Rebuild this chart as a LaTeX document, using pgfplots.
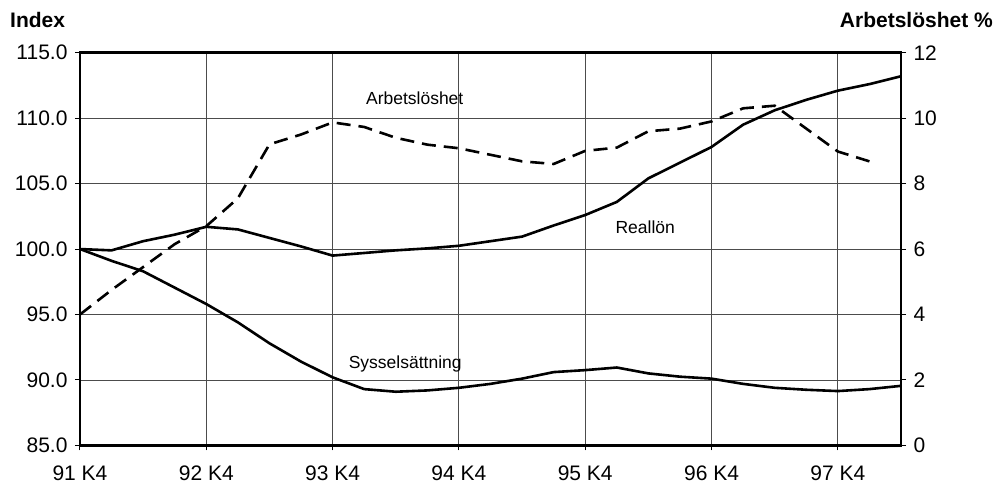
\documentclass[border=0pt]{standalone}
\usepackage{fontspec}
\setmainfont{Liberation Sans}
\usepackage{pgfplots}
\pgfplotsset{compat=1.18}
\begin{document}
\begin{tikzpicture}
\path[use as bounding box] (-80pt,-44.6pt) rectangle (919pt,445.4pt);
\begin{axis}[
  at={(0pt,0pt)}, anchor=south west,
  scale only axis, width=821pt, height=392.7pt,
  xmin=0, xmax=26, ymin=85, ymax=115,
  xtick={0,4,...,24},
  xticklabels={91 K4,92 K4,93 K4,94 K4,95 K4,96 K4,97 K4},
  ytick={85,90,...,115},
  xtick pos=bottom, ytick pos=left,
  tick align=outside, major tick length=5pt,
  tick style={line width=1pt, black},
  grid=major, grid style={line width=0.9pt, black!70},
  axis line style={line width=2.6pt},
  tick label style={font=\fontsize{21}{25}\selectfont},
  yticklabel style={/pgf/number format/fixed, /pgf/number format/fixed zerofill, /pgf/number format/precision=1, /pgf/number format/assume math mode=true, xshift=-4pt},
  xticklabel style={yshift=-12pt},
  clip=false,
]
\addplot[line width=2.6pt, black] coordinates {
(0,100.0) (1,99.9) (2,100.6) (3,101.1) (4,101.7) (5,101.5) (6,100.85) (7,100.2)
(8,99.5) (9,99.7) (10,99.9) (11,100.05) (12,100.25) (13,100.6) (14,100.95) (15,101.8)
(16,102.6) (17,103.6) (18,105.4) (19,106.6) (20,107.8) (21,109.5) (22,110.6) (23,111.4)
(24,112.1) (25,112.6) (26,113.2)};
\addplot[line width=2.6pt, black] coordinates {
(0,100.0) (1,99.1) (2,98.3) (3,97.05) (4,95.8) (5,94.4) (6,92.8) (7,91.4)
(8,90.2) (9,89.3) (10,89.1) (11,89.2) (12,89.4) (13,89.7) (14,90.1) (15,90.6)
(16,90.75) (17,90.95) (18,90.5) (19,90.25) (20,90.1) (21,89.7) (22,89.4) (23,89.25)
(24,89.15) (25,89.3) (26,89.55)};
\node[font=\fontsize{17.5}{20}\selectfont] at (axis cs:10.6,111.55) {Arbetslöshet};
\node[font=\fontsize{17.5}{20}\selectfont] at (axis cs:17.9,101.7) {Reallön};
\node[font=\fontsize{17.5}{20}\selectfont] at (axis cs:10.3,91.2) {Sysselsättning};
\end{axis}
\begin{axis}[
  at={(0pt,0pt)}, anchor=south west,
  scale only axis, width=821pt, height=392.7pt,
  xmin=0, xmax=26, ymin=0, ymax=12,
  axis x line=none, axis y line*=right,
  ytick={0,2,...,12},
  tick align=outside, major tick length=5pt,
  tick style={line width=1pt, black},
  axis line style={line width=2.6pt},
  tick label style={font=\fontsize{21}{25}\selectfont},
  yticklabel style={/pgf/number format/assume math mode=true, xshift=4pt},
]
\addplot[line width=2.6pt, black, dash pattern=on 14pt off 8pt] coordinates {
(0,4.0) (1,4.75) (2,5.45) (3,6.15) (4,6.7) (5,7.55) (6,9.2) (7,9.5)
(8,9.87) (9,9.73) (10,9.4) (11,9.19) (12,9.08) (13,8.88) (14,8.68) (15,8.6)
(16,9.0) (17,9.1) (18,9.6) (19,9.68) (20,9.9) (21,10.3) (22,10.38) (23,9.68)
(24,8.98) (25,8.68)};
\end{axis}
\node[anchor=west, inner sep=0pt, font=\bfseries\fontsize{21}{25}\selectfont] at (-70pt,425.4pt) {Index};
\node[anchor=east, inner sep=0pt, font=\bfseries\fontsize{21}{25}\selectfont] at (913pt,425.4pt) {Arbetslöshet \%};
\end{tikzpicture}
\end{document}
